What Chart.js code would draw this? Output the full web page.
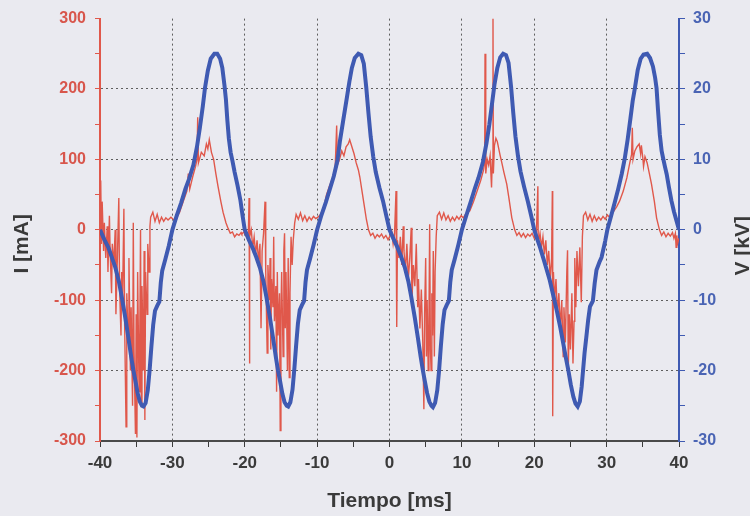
<!DOCTYPE html>
<html lang="es">
<head>
<meta charset="utf-8">
<title>Corriente y voltaje</title>
<script src="https://cdn.jsdelivr.net/npm/chart.js@4.4.1/dist/chart.umd.min.js"></script>
<style>
    html, body { margin: 0; padding: 0; background: #eaeaf0; }
    #contenedor { width: 750px; height: 516px; position: relative; }
</style>
</head>
<body>
<div id="contenedor"><canvas id="grafico"></canvas></div>
<script>
// Voltaje [kV], pares [tiempo ms, V]
const voltaje1 = [
    [-40.0, 0], [-39.4, -1.4], [-38.85, -2.5], [-38.4, -3.8], [-37.9, -5.3], [-37.4, -7.3], [-37.0, -9.5],
    [-36.5, -12.5], [-36.1, -15.2], [-35.7, -18], [-35.4, -19.9], [-35.1, -21.5], [-34.8, -23.2], [-34.5, -24.4],
    [-34.2, -25], [-34.0, -25.1], [-33.7, -24.6], [-33.4, -22.8], [-33.15, -20], [-32.9, -16.6], [-32.65, -13.5],
    [-32.4, -11.5], [-32.1, -10.8], [-31.8, -10.2], [-31.6, -7.5], [-31.4, -5.8], [-31.0, -4.3], [-30.5, -2.3],
    [-30.0, 0], [-29.4, 2.0], [-28.8, 3.8], [-28.2, 5.8], [-27.7, 7.2], [-27.1, 9.2], [-26.6, 11.8], [-26.2, 14.5],
    [-25.8, 17.5], [-25.5, 20.1], [-25.1, 22.6], [-24.7, 24.3], [-24.2, 25], [-23.8, 25], [-23.4, 24.3],
    [-23.1, 23.0], [-22.8, 20.5], [-22.6, 18.5], [-22.4, 15.5], [-22.2, 13.0], [-21.95, 11], [-21.7, 9.8],
    [-21.4, 8.2], [-21.0, 6.3], [-20.6, 4.2], [-20.3, 2.0],
];
const voltaje2 = [
    [-20.0, 0], [-19.4, -1.5], [-18.9, -2.6], [-18.4, -3.9], [-17.9, -5.4], [-17.4, -7.4], [-17.0, -9.6],
    [-16.5, -12.6], [-16.1, -15.3], [-15.7, -18.1], [-15.4, -20], [-15.1, -21.6], [-14.8, -23.3], [-14.5, -24.5],
    [-14.2, -25], [-14.0, -25.1], [-13.7, -24.5], [-13.4, -22.7], [-13.15, -19.8], [-12.9, -16.4], [-12.65, -13.3],
    [-12.4, -11.4], [-12.1, -10.7], [-11.8, -10.1], [-11.6, -7.4], [-11.4, -5.7], [-11.0, -4.2], [-10.5, -2.2],
    [-10.0, 0], [-9.4, 2.1], [-8.8, 3.9], [-8.2, 5.9], [-7.7, 7.6], [-7.2, 9.8], [-6.85, 12.6], [-6.4, 15.5],
    [-5.9, 18.7], [-5.55, 21], [-5.2, 23], [-4.8, 24.4], [-4.3, 25], [-3.9, 24.8], [-3.55, 23.6], [-3.2, 20.1],
    [-2.9, 16.5], [-2.6, 13.2], [-2.25, 10.4], [-1.9, 8.2], [-1.4, 6.0], [-0.9, 4.1], [-0.4, 1.8],
];
const voltaje3 = [
    [0.0, 0], [0.6, -1.4], [1.1, -2.5], [1.6, -3.8], [2.1, -5.3], [2.6, -7.3], [3.0, -9.5], [3.5, -12.5],
    [3.9, -15.2], [4.3, -18], [4.6, -19.9], [4.9, -21.6], [5.2, -23.2], [5.5, -24.4], [5.8, -25], [6.0, -25.2],
    [6.3, -24.6], [6.6, -22.8], [6.85, -20], [7.1, -16.5], [7.35, -13.4], [7.6, -11.4], [7.9, -10.7],
    [8.2, -10.1], [8.4, -7.4], [8.6, -5.7], [9.0, -4.2], [9.5, -2.2], [10.0, 0], [10.6, 2.0], [11.2, 3.9],
    [11.8, 5.9], [12.3, 7.4], [12.9, 9.6], [13.4, 12.3], [13.8, 15], [14.2, 18.2], [14.5, 20.6], [14.9, 23],
    [15.3, 24.5], [15.7, 25], [16.1, 24.8], [16.45, 23.7], [16.8, 20.3], [17.1, 16.6], [17.4, 13.3],
    [17.75, 10.5], [18.1, 8.3], [18.6, 6.1], [19.1, 4.1], [19.6, 1.9],
];
const voltaje4 = [
    [20.0, 0], [20.4, -1.3], [20.8, -2.5], [21.3, -4.2], [21.7, -5.6], [22.15, -7.2], [22.6, -9.2],
    [23.1, -11.4], [23.6, -13.9], [24.0, -16.1], [24.35, -18.1], [24.7, -19.9], [25.05, -22], [25.4, -23.7],
    [25.7, -24.7], [26.0, -25.1], [26.3, -24.4], [26.55, -22.3], [26.75, -19.9], [26.95, -17.5], [27.2, -15.2],
    [27.45, -12.8], [27.7, -10.9], [27.9, -10.5], [28.1, -10.1], [28.35, -7.6], [28.6, -5.7], [29.0, -4.6],
    [29.3, -3.9], [29.8, -1.6], [30.1, 0], [30.6, 1.9], [31.1, 3.8], [31.6, 5.8], [32.1, 8.0], [32.5, 10.1],
    [32.9, 12.8], [33.3, 15.9], [33.6, 18.3], [33.9, 20.1], [34.3, 22.7], [34.7, 24.3], [35.1, 24.9],
    [35.6, 25], [36.0, 24.4], [36.4, 23.2], [36.7, 21.6], [36.9, 20.1], [37.1, 17], [37.35, 13.5],
    [37.6, 11.2], [37.8, 10.2], [38.05, 9.0], [38.3, 7.9], [38.6, 6.1], [38.96, 4.1], [39.3, 2.6],
    [39.65, 1.3], [40.0, 0],
];

// Corriente [mA], pares [tiempo ms, I]
const corriente1 = [
    [-40.0, 5], [-39.9, 70], [-39.8, -20], [-39.7, 40], [-39.5, -30], [-39.4, 10], [-39.2, -40], [-39.0, 5],
    [-38.9, -60], [-38.7, 20], [-38.6, -30], [-38.4, -90], [-38.3, -20], [-38.1, -50], [-37.9, 0],
    [-37.8, -120], [-37.6, -40], [-37.4, 45], [-37.3, -80], [-37.1, -150], [-37.0, -60], [-36.9, -110],
    [-36.7, 30], [-36.6, -130], [-36.4, -280], [-36.3, -90], [-36.1, -160], [-36.0, -40], [-35.8, -200],
    [-35.7, -110], [-35.5, -250], [-35.4, 10], [-35.3, -170], [-35.1, -290], [-35.0, -120], [-34.9, -295],
    [-34.8, -60], [-34.6, -230], [-34.5, -150], [-34.4, 0], [-34.3, -250], [-34.2, -80], [-34.0, -200],
    [-33.9, -30], [-33.8, -270], [-33.7, -60], [-33.5, -120], [-33.4, -20], [-33.2, -60], [-33.1, 5],
    [-33.0, 18], [-32.7, 25], [-32.4, 12], [-32.1, 22], [-31.8, 10], [-31.5, 18], [-31.2, 12], [-30.9, 17],
    [-30.6, 14], [-30.2, 18], [-29.8, 14], [-29.4, 17], [-29.0, 25], [-28.5, 40], [-28.0, 55], [-27.8, 80],
    [-27.6, 58], [-27.2, 75], [-26.8, 90], [-26.6, 100], [-26.5, 160], [-26.4, 95], [-26.0, 110],
    [-25.6, 105], [-25.3, 122], [-25.1, 115], [-24.9, 128], [-24.6, 110], [-24.3, 100], [-24.0, 80],
    [-23.7, 62], [-23.3, 40], [-23.0, 25], [-22.6, 10], [-22.3, 2], [-22.0, -5], [-21.7, -3], [-21.4, -10],
    [-21.1, -6], [-20.8, -8], [-20.5, -4],
];
const corriente2 = [
    [-20.4, -6], [-20.1, -3], [-19.8, -9], [-19.5, -5], [-19.4, 45], [-19.35, -190], [-19.3, -10],
    [-19.1, 0], [-18.9, -25], [-18.7, -10], [-18.5, -35], [-18.3, -15], [-18.1, -45], [-17.9, -20],
    [-17.75, -140], [-17.6, -30], [-17.4, -5], [-17.2, 40], [-17.1, -60], [-16.9, -175], [-16.8, -50],
    [-16.6, -100], [-16.5, -40], [-16.4, -170], [-16.3, -70], [-16.1, -110], [-16.0, -10], [-15.9, -130],
    [-15.7, -80], [-15.6, -230], [-15.5, -60], [-15.4, -150], [-15.2, -90], [-15.1, -285], [-15.0, -120],
    [-14.9, -60], [-14.7, -180], [-14.6, -30], [-14.5, -5], [-14.4, -140], [-14.3, -60], [-14.1, -200],
    [-14.0, -40], [-13.85, -210], [-13.75, -90], [-13.6, -10], [-13.45, -50], [-13.3, -15], [-13.1, 10],
    [-12.9, 22], [-12.6, 15], [-12.3, 24], [-12.0, 13], [-11.7, 20], [-11.4, 12], [-11.1, 18], [-10.8, 14],
    [-10.5, 19], [-10.2, 16], [-9.9, 18], [-9.5, 22], [-9.0, 35], [-8.7, 50], [-8.3, 62], [-7.8, 75],
    [-7.5, 90], [-7.3, 148], [-7.2, 92], [-6.9, 100], [-6.6, 112], [-6.3, 105], [-6.0, 118], [-5.7, 122],
    [-5.5, 128], [-5.2, 118], [-4.9, 108], [-4.6, 95], [-4.3, 85], [-4.1, 75], [-3.8, 55], [-3.5, 35],
    [-3.2, 15], [-2.9, 0], [-2.6, -8], [-2.3, -5], [-2.0, -12], [-1.7, -7], [-1.4, -10], [-1.1, -6],
    [-0.8, -12], [-0.5, -8], [-0.2, -14],
];
const corriente3 = [
    [0.0, -10], [0.3, -2], [0.5, -20], [0.7, -5], [0.9, 55], [1.0, -138], [1.1, -15], [1.3, -40], [1.5, -10],
    [1.7, -50], [1.9, 5], [2.0, -30], [2.2, -60], [2.4, -20], [2.6, -70], [2.8, -40], [3.0, 3], [3.1, -100],
    [3.3, -50], [3.5, -80], [3.7, -20], [3.9, -110], [4.0, -70], [4.2, -140], [4.4, -85], [4.6, -160],
    [4.75, -255], [4.85, -120], [5.0, -40], [5.1, -180], [5.2, -100], [5.35, -200], [5.45, -130], [5.55, 8],
    [5.65, -170], [5.75, -200], [5.85, -90], [5.95, -150], [6.05, -30], [6.2, -180], [6.3, -60], [6.45, -10],
    [6.6, 20], [6.9, 25], [7.2, 15], [7.5, 24], [7.8, 14], [8.1, 20], [8.4, 12], [8.7, 18], [9.0, 13],
    [9.3, 19], [9.6, 15], [9.9, 20], [10.2, 17], [10.5, 22], [11.1, 27], [11.6, 40], [12.2, 58], [12.6, 70],
    [13.0, 85], [13.15, 95], [13.2, 250], [13.3, 80], [13.5, 100], [13.7, 92], [13.9, 105], [14.1, 60],
    [14.2, 100], [14.3, 300], [14.35, 80], [14.5, 120], [14.7, 130], [14.9, 125], [15.1, 115], [15.3, 105],
    [15.5, 96], [15.8, 82], [16.2, 65], [16.5, 45], [16.9, 17], [17.3, 0], [17.6, -8], [17.9, -4],
    [18.2, -10], [18.5, -5], [18.8, -11], [19.1, -6], [19.4, -9], [19.7, -5],
];
const corriente4 = [
    [20.0, -12], [20.3, -3], [20.5, 62], [20.55, -20], [20.8, -5], [21.0, -25], [21.2, -10], [21.4, -35],
    [21.6, -15], [21.8, -50], [22.0, -30], [22.2, -70], [22.4, -40], [22.5, 55], [22.55, -265], [22.65, -60],
    [22.8, -100], [23.0, -70], [23.2, -120], [23.4, -90], [23.6, -140], [23.8, -100], [24.0, -180],
    [24.1, -110], [24.3, -160], [24.5, -60], [24.6, -29], [24.7, -200], [24.85, -120], [25.0, -170],
    [25.2, -90], [25.35, -190], [25.5, -130], [25.6, -40], [25.75, -110], [25.9, -30], [26.1, -80],
    [26.3, -25], [26.5, -103], [26.65, -10], [26.8, 20], [27.1, 25], [27.4, 14], [27.7, 22], [28.0, 12],
    [28.3, 20], [28.6, 13], [28.9, 18], [29.2, 14], [29.5, 19], [29.8, 15], [30.1, 21], [30.4, 18],
    [30.9, 25], [31.4, 33], [31.8, 41], [32.3, 55], [32.8, 74], [33.2, 95], [33.45, 107], [33.55, 145],
    [33.65, 100], [33.9, 112], [34.2, 118], [34.5, 122], [34.7, 108], [34.8, 120], [35.0, 102], [35.1, 90],
    [35.3, 104], [35.6, 95], [35.9, 80], [36.2, 65], [36.6, 40], [36.9, 17], [37.3, 0], [37.6, -8],
    [37.9, -3], [38.2, -10], [38.5, -5], [38.8, -9], [39.1, -4], [39.3, -12], [39.5, -5], [39.6, -25],
    [39.7, -8], [39.8, -20], [40.0, -12],
];

const rangoTiempo = [-40, 40];
const rangoCorriente = [-300, 300];
const rangoVoltaje = [-30, 30];

const rojo = "#e0584b";
const rojoTexto = "#d8564c";
const azul = "#3f5ab2";
const azulTexto = "#4a64b4";
const gris = "#3a3a3a";
const rejilla = "#5e5e5e";
const fuente = "'Liberation Sans', Arial, sans-serif";

const aPuntos = (pares) => pares.map((p) => ({ x: p[0], y: p[1] }));

const puntosV = aPuntos([].concat(voltaje1, voltaje2, voltaje3, voltaje4));
const puntosI = aPuntos([].concat(corriente1, corriente2, corriente3, corriente4));

// fondo y titulos de los ejes (el de la derecha va de abajo hacia arriba)
const fondoYTitulos = {
    id: "fondoYTitulos",
    beforeDraw(chart) {
        const ctx = chart.ctx;
        ctx.save();
        ctx.fillStyle = "#eaeaf0";
        ctx.fillRect(0, 0, chart.width, chart.height);
        ctx.restore();
    },
    afterDraw(chart) {
        const ctx = chart.ctx;
        const area = chart.chartArea;
        const medioY = (area.top + area.bottom) / 2 + 14;
        ctx.save();
        ctx.font = "bold 21px " + fuente;
        ctx.fillStyle = gris;
        ctx.textAlign = "center";
        ctx.textBaseline = "alphabetic";
        ctx.fillText("Tiempo [ms]", (area.left + area.right) / 2, 507);

        ctx.save();
        ctx.translate(28, medioY);
        ctx.rotate(-Math.PI / 2);
        ctx.fillText("I [mA]", 0, 0);
        ctx.restore();

        ctx.save();
        ctx.translate(749, medioY + 2);
        ctx.rotate(-Math.PI / 2);
        ctx.fillText("V [kV]", 0, 0);
        ctx.restore();
        ctx.restore();
    },
};

const colorRejilla = (paso, limite) => (ctx) => {
    const v = ctx.tick ? ctx.tick.value : 0;
    if (Math.abs(v) >= limite) return "rgba(0,0,0,0)";
    return v % paso === 0 ? rejilla : "rgba(0,0,0,0)";
};

new Chart(document.getElementById("grafico"), {
    type: "line",
    data: {
        datasets: [
            {
                label: "V [kV]",
                data: puntosV,
                yAxisID: "yV",
                borderColor: azul,
                borderWidth: 4,
                pointRadius: 0,
                tension: 0,
                order: 0,
            },
            {
                label: "I [mA]",
                data: puntosI,
                yAxisID: "yI",
                borderColor: rojo,
                borderWidth: 1.4,
                pointRadius: 0,
                tension: 0,
                order: 1,
            },
        ],
    },
    options: {
        responsive: true,
        maintainAspectRatio: false,
        animation: false,
        layout: { padding: { top: 16, left: 0, right: 0, bottom: 0 } },
        plugins: {
            legend: { display: false },
            tooltip: { enabled: false },
        },
        scales: {
            x: {
                type: "linear",
                min: rangoTiempo[0],
                max: rangoTiempo[1],
                afterFit: (scale) => { scale.height = 75; },
                ticks: {
                    stepSize: 5,
                    autoSkip: false,
                    maxRotation: 0,
                    padding: 6,
                    color: gris,
                    font: { family: fuente, size: 17, weight: "bold" },
                    callback: (v) => (v % 10 === 0 ? v : ""),
                },
                grid: {
                    color: colorRejilla(10, 40),
                    tickColor: gris,
                    tickLength: 6,
                    lineWidth: 1,
                },
                border: { color: "#4a4a4a", width: 2, dash: [2, 3] },
            },
            yI: {
                type: "linear",
                position: "left",
                min: rangoCorriente[0],
                max: rangoCorriente[1],
                afterFit: (scale) => { scale.width = 100; },
                ticks: {
                    stepSize: 50,
                    autoSkip: false,
                    padding: 9,
                    color: rojoTexto,
                    font: { family: fuente, size: 16, weight: "bold" },
                    callback: (v) => (v % 100 === 0 ? v : ""),
                },
                grid: {
                    color: colorRejilla(100, 300),
                    tickColor: rojo,
                    tickLength: 5,
                    lineWidth: 1,
                },
                border: { color: rojo, width: 2, dash: [2, 3] },
            },
            yV: {
                type: "linear",
                position: "right",
                min: rangoVoltaje[0],
                max: rangoVoltaje[1],
                afterFit: (scale) => { scale.width = 71; },
                ticks: {
                    stepSize: 5,
                    autoSkip: false,
                    padding: 8,
                    color: azulTexto,
                    font: { family: fuente, size: 16, weight: "bold" },
                    callback: (v) => (v % 10 === 0 ? v : ""),
                },
                grid: {
                    drawOnChartArea: false,
                    tickColor: azul,
                    tickLength: 6,
                },
                border: { color: azul, width: 2 },
            },
        },
    },
    plugins: [fondoYTitulos],
});
</script>
</body>
</html>
